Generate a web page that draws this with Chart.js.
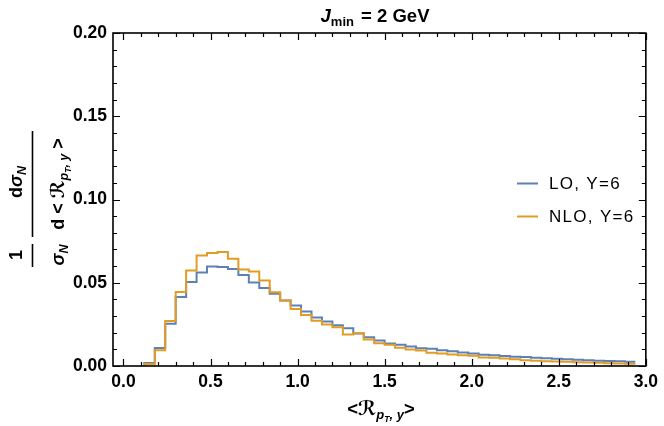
<!DOCTYPE html>
<html><head><meta charset="utf-8">
<script src="https://cdn.jsdelivr.net/npm/chart.js@4/dist/chart.umd.min.js"></script>
<style>html,body{margin:0;padding:0;background:#fff}#wrap{width:664px;height:426px}</style>
</head><body><div id="wrap"><canvas id="c" width="664" height="426"></canvas></div>
<script>
const binEdges = [0.12,0.18,0.24,0.30,0.36,0.42,0.48,0.54,0.60,0.66,0.72,0.78,0.84,0.90,0.96,1.02,1.08,1.14,1.20,1.26,1.32,1.38,1.44,1.50,1.56,1.62,1.68,1.74,1.80,1.86,1.92,1.98,2.04,2.10,2.16,2.22,2.28,2.34,2.40,2.46,2.52,2.58,2.64,2.70,2.76,2.82,2.88,2.94];
const loValues = [0.0018,0.0108,0.0254,0.0414,0.0504,0.0562,0.0598,0.0594,0.0582,0.0546,0.0501,0.0468,0.0434,0.0393,0.0363,0.0328,0.0292,0.0267,0.0244,0.0226,0.0195,0.0173,0.0153,0.0135,0.0127,0.0117,0.0107,0.0103,0.0095,0.0089,0.0081,0.0075,0.0068,0.0064,0.0060,0.0056,0.0054,0.0050,0.0047,0.0044,0.0041,0.0038,0.0035,0.0032,0.0030,0.0028,0.0026];
const nloValues = [0.0012,0.0094,0.0270,0.0444,0.0574,0.0664,0.0678,0.0684,0.0644,0.0580,0.0568,0.0514,0.0443,0.0393,0.0342,0.0306,0.0272,0.0250,0.0232,0.0189,0.0197,0.0159,0.0137,0.0127,0.0109,0.0099,0.0093,0.0080,0.0075,0.0069,0.0064,0.0062,0.0051,0.0049,0.0045,0.0041,0.0035,0.0031,0.0029,0.0027,0.0025,0.0023,0.0021,0.0019,0.0017,0.0015,0.0013];
const seriesLabels = ['LO, Y=6', 'NLO, Y=6'];
const xTickLabels = [0.0,0.5,1.0,1.5,2.0,2.5,3.0];
const yTickLabels = [0.00,0.05,0.10,0.15,0.20];

const BLUE = '#5E81B5', ORANGE = '#E19C24';
const FF = '"Liberation Sans", "DejaVu Sans", Arial, sans-serif';

function stepPoints(vals){
  const pts = [{x: binEdges[0], y: 0}];
  for (let i = 0; i < vals.length; i++) pts.push({x: binEdges[i], y: vals[i]});
  pts.push({x: binEdges[vals.length], y: vals[vals.length-1]});
  return pts;
}

function drawRuns(ctx, runs, x, y, align){
  let w = 0;
  runs.forEach(r => { ctx.font = r.f; w += ctx.measureText(r.t).width + (r.sp||0); });
  let cx = align === 'center' ? x - w/2 : x;
  ctx.textBaseline = 'alphabetic'; ctx.textAlign = 'left';
  runs.forEach(r => { ctx.font = r.f; ctx.fillText(r.t, cx, y + (r.dy||0)); cx += ctx.measureText(r.t).width + (r.sp||0); });
  return w;
}

const decor = {
  id: 'decor',
  afterDraw(chart){
    const ctx = chart.ctx, a = chart.chartArea, xs = chart.scales.x, ys = chart.scales.y;
    ctx.save();
    ctx.strokeStyle = '#000'; ctx.lineWidth = 1.6;
    ctx.strokeRect(a.left, a.top, a.right - a.left, a.bottom - a.top);
    ctx.lineWidth = 1.2;
    ctx.beginPath();
    for (let k = 0; k <= 30; k++){
      const v = k/10, px = Math.round(xs.getPixelForValue(v)) + 0.5;
      const L = (k % 5 === 0) ? 7 : 4;
      ctx.moveTo(px, a.bottom); ctx.lineTo(px, a.bottom - L);
      ctx.moveTo(px, a.top); ctx.lineTo(px, a.top + L);
    }
    for (let k = 0; k <= 20; k++){
      const v = k/100, py = Math.round(ys.getPixelForValue(v)) + 0.5;
      const L = (k % 5 === 0) ? 7 : 4;
      ctx.moveTo(a.left, py); ctx.lineTo(a.left + L, py);
      ctx.moveTo(a.right, py); ctx.lineTo(a.right - L, py);
    }
    ctx.stroke();
    ctx.fillStyle = '#000';
    // title
    drawRuns(ctx, [
      {t:'J', f:'italic bold 18.5px '+FF},
      {t:'min', f:'bold 13px '+FF, dy:4, sp:2},
      {t:' = 2 GeV', f:'bold 18.5px '+FF}
    ], 375, 22, 'center');
    // x title
    drawRuns(ctx, [
      {t:'<', f:'bold 18.5px '+FF},
      {t:'\u211B', f:'italic bold 19.5px '+FF},
      {t:'p', f:'italic bold 13px '+FF, dy:4},
      {t:'T', f:'italic bold 8.5px '+FF, dy:7},
      {t:', y', f:'italic bold 13px '+FF, dy:4},
      {t:'>', f:'bold 18.5px '+FF}
    ], 381, 415, 'center');
    // y title (rotated)
    ctx.save();
    ctx.translate(32, 200);
    ctx.rotate(-Math.PI/2);
    ctx.lineWidth = 1.6;
    ctx.beginPath();
    ctx.moveTo(-67, 0.5); ctx.lineTo(-44, 0.5);
    ctx.moveTo(-37, 0.5); ctx.lineTo(69, 0.5);
    ctx.stroke();
    drawRuns(ctx, [{t:'1', f:'bold 18px '+FF}], -55, -10, 'center');
    drawRuns(ctx, [{t:'\u03C3', f:'italic bold 18px '+FF},{t:'N', f:'italic bold 12.5px '+FF, dy:4}], -55, 32, 'center');
    drawRuns(ctx, [{t:'d', f:'bold 18px '+FF},{t:'\u03C3', f:'italic bold 18px '+FF},{t:'N', f:'italic bold 12.5px '+FF, dy:4}], 18, -10, 'center');
    drawRuns(ctx, [
      {t:'d < ', f:'bold 18px '+FF},
      {t:'\u211B', f:'italic bold 19px '+FF},
      {t:'p', f:'italic bold 12.5px '+FF, dy:4},
      {t:'T', f:'italic bold 8.5px '+FF, dy:7},
      {t:', y', f:'italic bold 12.5px '+FF, dy:4},
      {t:' >', f:'bold 18px '+FF}
    ], 16, 32, 'center');
    ctx.restore();
    // legend
    const leg = [[seriesLabels[0], BLUE, 183], [seriesLabels[1], ORANGE, 216]];
    leg.forEach(([t, c, y]) => {
      ctx.strokeStyle = c; ctx.lineWidth = 2;
      ctx.beginPath(); ctx.moveTo(517, y + 0.5); ctx.lineTo(538, y + 0.5); ctx.stroke();
      ctx.fillStyle = '#000'; ctx.font = '17px '+FF; ctx.textBaseline = 'middle'; ctx.textAlign = 'left';
      ctx.letterSpacing = '1.3px';
      ctx.fillText(t, 549, y + 1);
      ctx.letterSpacing = '0px';
    });
    ctx.restore();
  }
};

new Chart(document.getElementById('c'), {
  type: 'line',
  data: { datasets: [
    { label: seriesLabels[0], data: stepPoints(loValues), borderColor: BLUE, borderWidth: 2, stepped: true, pointRadius: 0, fill: false, order: 1 },
    { label: seriesLabels[1], data: stepPoints(nloValues), borderColor: ORANGE, borderWidth: 2, stepped: true, pointRadius: 0, fill: false, order: 0 }
  ]},
  options: {
    responsive: false, animation: false, devicePixelRatio: 1,
    layout: { padding: { top: 33, right: 14, left: 0, bottom: 0 } },
    plugins: { legend: { display: false }, title: { display: false }, tooltip: { enabled: false } },
    scales: {
      x: { type: 'linear', min: -0.06, max: 3.0,
        grid: { display: false, drawTicks: false }, border: { display: false },
        afterBuildTicks: s => { s.ticks = xTickLabels.map(v => ({ value: v })); },
        afterFit: s => { s.height = 60; },
        ticks: { padding: 6, color: '#000', maxRotation: 0, autoSkip: false,
          font: { family: FF, size: 17.5, weight: 'bold' }, callback: v => Number(v).toFixed(1) } },
      y: { type: 'linear', min: 0, max: 0.2,
        grid: { display: false, drawTicks: false }, border: { display: false },
        afterBuildTicks: s => { s.ticks = yTickLabels.map(v => ({ value: v })); },
        afterFit: s => { s.width = 113; },
        ticks: { padding: 6, color: '#000', autoSkip: false,
          font: { family: FF, size: 17.5, weight: 'bold' }, callback: v => Number(v).toFixed(2) } }
    }
  },
  plugins: [decor]
});
</script></body></html>
